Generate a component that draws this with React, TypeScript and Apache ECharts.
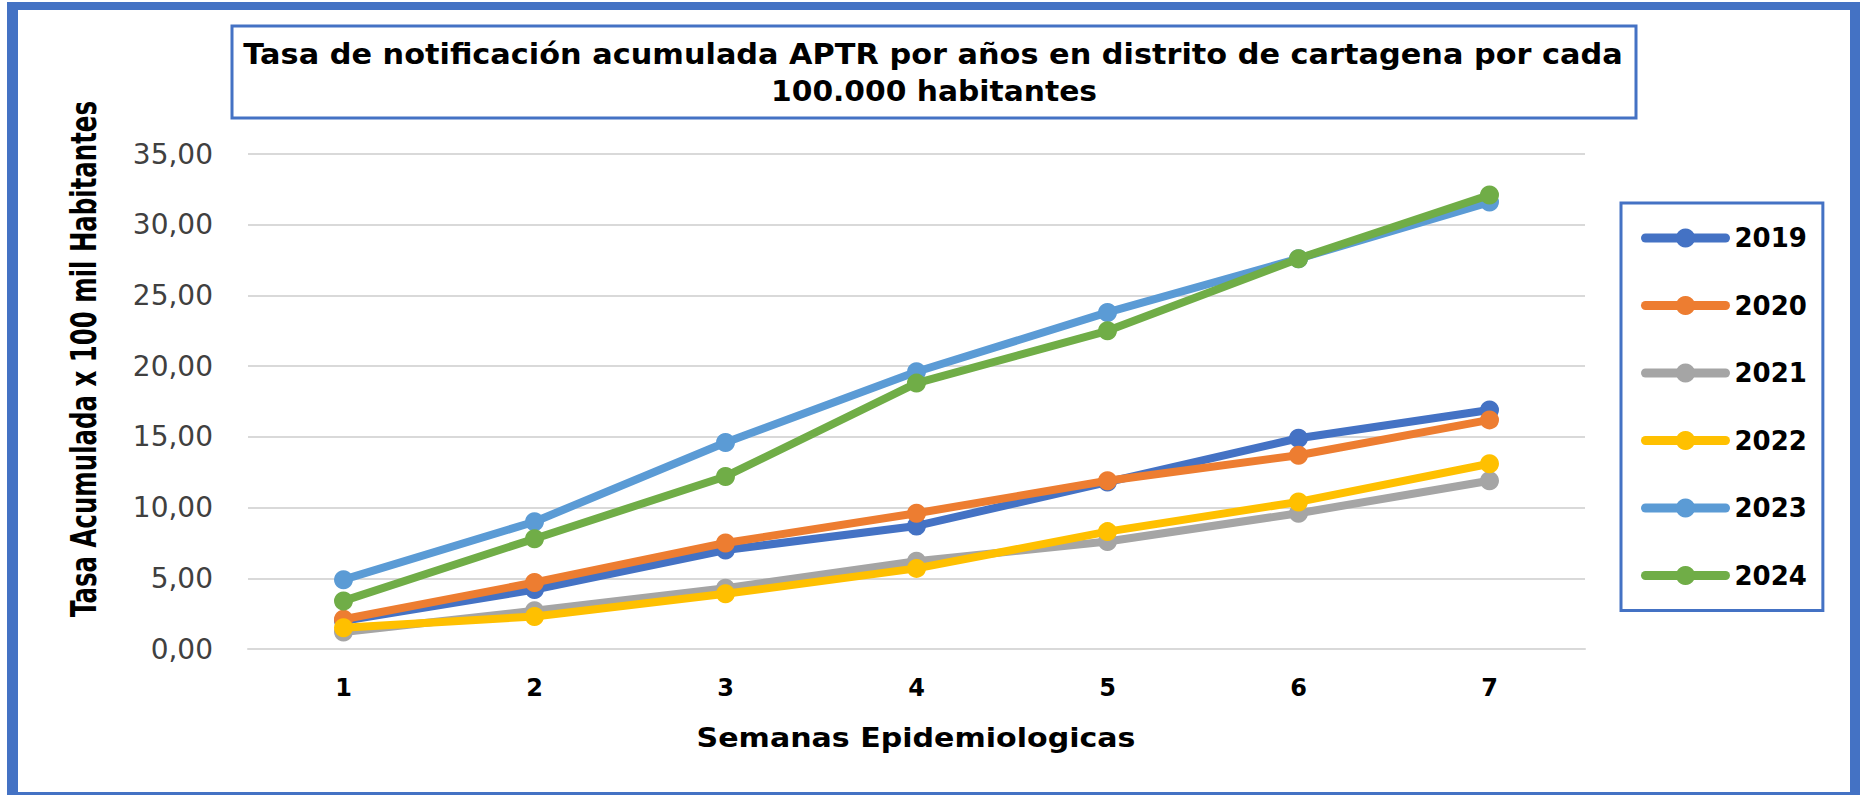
import React, { useEffect, useRef } from "react";
import * as echarts from "echarts";

const weeks = ["1", "2", "3", "4", "5", "6", "7"];
const seriesNames = ["2019", "2020", "2021", "2022", "2023", "2024"];
const v2019 = [2.0, 4.2, 7.0, 8.7, 11.8, 14.9, 16.9];
const v2020 = [2.1, 4.7, 7.5, 9.6, 11.9, 13.7, 16.2];
const v2021 = [1.2, 2.7, 4.3, 6.2, 7.6, 9.6, 11.9];
const v2022 = [1.5, 2.3, 3.9, 5.7, 8.3, 10.4, 13.1];
const v2023 = [4.9, 9.0, 14.6, 19.6, 23.8, 27.6, 31.6];
const v2024 = [3.4, 7.8, 12.2, 18.8, 22.5, 27.6, 32.1];
const seriesValues = [v2019, v2020, v2021, v2022, v2023, v2024];
const seriesColors = ["#4472C4", "#ED7D31", "#A5A5A5", "#FFC000", "#5B9BD5", "#70AD47"];

const titleLine1 = "Tasa de notificación acumulada APTR por años en distrito de cartagena por cada";
const titleLine2 = "100.000 habitantes";
const xTitle = "Semanas Epidemiologicas";
const yTitle = "Tasa Acumulada x 100 mil Habitantes";

const FONT = '"DejaVu Sans", sans-serif';
const BORDER = "#4472C4";

function measure(text: string, font: string): number {
  const ctx = document.createElement("canvas").getContext("2d");
  if (!ctx) return 1;
  ctx.font = font;
  return ctx.measureText(text).width || 1;
}

function fitText(text: string, size: number, target: number, x: number, y: number, rotation = 0) {
  const w = measure(text, `bold ${size}px ${FONT}`);
  return {
    type: "text",
    x,
    y,
    rotation,
    scaleX: target / w,
    z: 100,
    style: {
      text,
      fill: "#000000",
      fontSize: size,
      fontWeight: "bold",
      fontFamily: FONT,
      align: "center",
      verticalAlign: "middle",
      textAlign: "center",
      textVerticalAlign: "middle",
    },
  };
}

export default function App() {
  const ref = useRef<HTMLDivElement>(null);

  useEffect(() => {
    document.body.style.margin = "0";
    if (!ref.current) return;
    const chart = echarts.init(ref.current, undefined, { renderer: "svg" });

    const option: any = {
      animation: false,
      backgroundColor: "#ffffff",
      grid: {
        left: 248,
        right: 275,
        top: 154,
        bottom: 146,
        containLabel: false,
        outerBoundsMode: "none",
      },
      legend: {
        orient: "vertical",
        left: 1621,
        top: 203,
        padding: [22, 16, 22, 20],
        itemWidth: 80,
        itemHeight: 24,
        itemGap: 41.5,
        borderColor: BORDER,
        borderWidth: 3,
        backgroundColor: "#ffffff",
        data: seriesNames,
        lineStyle: { width: 9, cap: "round" },
        textStyle: {
          fontFamily: FONT,
          fontWeight: "bold",
          fontSize: 26,
          color: "#000000",
          lineHeight: 24,
          padding: [0, 0, 0, 4],
        },
      },
      xAxis: {
        type: "category",
        data: weeks,
        boundaryGap: true,
        axisTick: { show: false },
        axisLine: { lineStyle: { color: "#D9D9D9", width: 2 } },
        axisLabel: {
          margin: 27,
          fontFamily: FONT,
          fontWeight: "bold",
          fontSize: 24,
          color: "#000000",
        },
      },
      yAxis: {
        type: "value",
        min: 0,
        max: 35,
        interval: 5,
        axisLine: { show: false },
        axisTick: { show: false },
        splitLine: { lineStyle: { color: "#D9D9D9", width: 2 } },
        axisLabel: {
          margin: 35,
          fontFamily: FONT,
          fontSize: 28,
          color: "#404040",
          formatter: (v: number) => v.toFixed(2).replace(".", ","),
        },
      },
      series: seriesNames.map((name, i) => ({
        name,
        type: "line",
        data: seriesValues[i],
        z: 2 + i,
        symbol: "circle",
        symbolSize: 19,
        showSymbol: true,
        color: seriesColors[i],
        lineStyle: { width: 8, color: seriesColors[i], cap: "round", join: "round" },
        itemStyle: { color: seriesColors[i], borderWidth: 0 },
        emphasis: { disabled: true },
      })),
      graphic: [
        { type: "rect", shape: { x: 7, y: 2, width: 11, height: 793 }, style: { fill: BORDER }, z: 50 },
        { type: "rect", shape: { x: 7, y: 2, width: 1853, height: 8 }, style: { fill: BORDER }, z: 50 },
        { type: "rect", shape: { x: 1850, y: 2, width: 10, height: 793 }, style: { fill: BORDER }, z: 50 },
        { type: "rect", shape: { x: 7, y: 792, width: 1853, height: 3 }, style: { fill: BORDER }, z: 50 },
        {
          type: "rect",
          shape: { x: 232, y: 26, width: 1404, height: 92 },
          style: { fill: "#ffffff", stroke: BORDER, lineWidth: 3 },
          z: 90,
        },
        fitText(titleLine1, 28, 1380, 933, 54),
        fitText(titleLine2, 28, 326, 934, 91),
        fitText(xTitle, 26, 439, 916, 738),
        fitText(yTitle, 35, 516, 84, 359, Math.PI / 2),
      ],
    };

    chart.setOption(option);
    return () => chart.dispose();
  }, []);

  return <div ref={ref} style={{ width: 1860, height: 795, position: "absolute", left: 0, top: 0 }} />;
}
